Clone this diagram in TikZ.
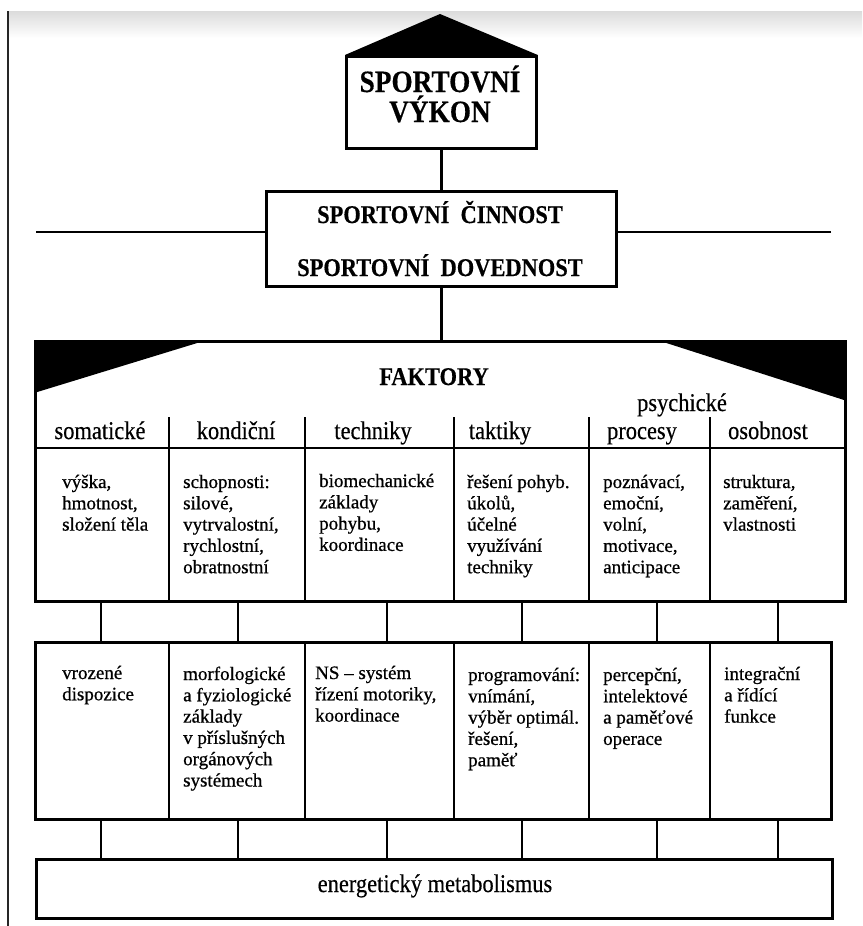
\documentclass[tikz,border=0pt]{standalone}
\usepackage{fontspec}
\setmainfont{Liberation Serif}
\newfontfamily\condfont[FakeStretch=0.88,FakeBold=0.4,Ligatures=TeX]{Liberation Serif}
\newfontfamily\cellfont[FakeBold=0.7,Ligatures=TeX]{Liberation Serif}
\begin{document}
\begin{tikzpicture}[x=1pt,y=-1pt,
  box/.style={draw, line width=2.8pt, inner sep=0pt, anchor=north west},
  ln/.style={line width=2.5pt},
  celltxt/.style={anchor=base west, inner sep=0pt, font=\cellfont\fontsize{19}{21.3}\selectfont},
  head/.style={anchor=base, inner sep=0pt, font=\condfont\fontsize{25.5}{25.5}\selectfont},
  bighead/.style={anchor=base, inner sep=0pt, font=\condfont\bfseries\fontsize{25.5}{25.5}\selectfont},
  toptxt/.style={anchor=base, inner sep=0pt, font=\condfont\bfseries\fontsize{31}{31}\selectfont}]
\useasboundingbox (0,0) rectangle (862,926);
\fill[white] (0,0) rectangle (862,926);
\shade[top color=black!14, bottom color=white] (8,11) rectangle (862,38);
\draw[line width=2pt, black!85] (8,11) -- (8,926);

% top box with roof
\node[box, minimum width=190pt, minimum height=92pt] (vykon) at (345,55) {};
\coordinate (apex) at (440,14);
\fill[black] (vykon.north west) -- (apex) -- (vykon.north east) -- cycle;
\node[toptxt] (vyk1) at (440,92) {SPORTOVNÍ};
\node[toptxt] (vyk2) at (440,122) {VÝKON};

% activity box
\node[box, minimum width=350pt, minimum height=95pt] (cinnost) at (265,190) {};
\node[bighead] (cin1) at (440,223) {SPORTOVNÍ\ \ ČINNOST};
\node[bighead] (cin2) at (440,276) {SPORTOVNÍ\ \ DOVEDNOST};
\draw[ln] (vykon.south) -- (cinnost.north);
\coordinate (lend) at (36,232);
\coordinate (rend) at (831,232);
\draw[line width=2.8pt] (lend) -- (lend -| cinnost.west);
\draw[line width=2.8pt] (rend) -- (rend -| cinnost.east);

% factors block
\fill[black] (34,340) -- (207,340) -- (34,393) -- cycle;
\fill[black] (657,340) -- (844,340) -- (844,400) -- cycle;
\node[box, minimum width=810pt, minimum height=260pt] (fak) at (34,340) {};
\draw[ln] (cinnost.south) -- (cinnost.south |- fak.north);
\node[bighead] (faktory) at (434,385) {FAKTORY};
\node[head] (psych) at (682,411) {psychické};
\draw[line width=2.8pt] (34,448) -- (844,448);
\foreach \x in {169,305,454,589,710}{
  \draw[ln] (\x,417) -- (\x,600);
}
\node[head] (h1) at (100,439) {somatické};
\node[head] (h2) at (236,439) {kondiční};
\node[head] (h3) at (373,439) {techniky};
\node[head] (h4) at (500,439) {taktiky};
\node[head] (h5) at (642,439) {procesy};
\node[head] (h6) at (768,439) {osobnost};

\node[celltxt] (a1) at (62,488) {\parbox[t]{200pt}{výška,\\hmotnost,\\složení těla}};
\node[celltxt] (a2) at (183,488) {\parbox[t]{200pt}{schopnosti:\\silové,\\vytrvalostní,\\rychlostní,\\obratnostní}};
\node[celltxt] (a3) at (319,487) {\parbox[t]{200pt}{biomechanické\\základy\\pohybu,\\koordinace}};
\node[celltxt] (a4) at (467,488) {\parbox[t]{200pt}{řešení pohyb.\\úkolů,\\účelné\\využívání\\techniky}};
\node[celltxt] (a5) at (603,488) {\parbox[t]{200pt}{poznávací,\\emoční,\\volní,\\motivace,\\anticipace}};
\node[celltxt] (a6) at (723,488) {\parbox[t]{200pt}{struktura,\\zaměření,\\vlastnosti}};

% second row
\node[box, minimum width=796pt, minimum height=177pt] (row2) at (34,641) {};
\foreach \x in {169,305,454,589,710}{
  \draw[ln] (\x,641) -- (\x,818);
}
\node[celltxt] (b1) at (62,679) {\parbox[t]{200pt}{vrozené\\dispozice}};
\node[celltxt] (b2) at (183,680) {\parbox[t]{200pt}{morfologické\\a fyziologické\\základy\\v příslušných\\orgánových\\systémech}};
\node[celltxt] (b3) at (315,679) {\parbox[t]{200pt}{NS – systém\\řízení motoriky,\\koordinace}};
\node[celltxt] (b4) at (468,681) {\parbox[t]{200pt}{programování:\\vnímání,\\výběr optimál.\\řešení,\\paměť}};
\node[celltxt] (b5) at (603,681) {\parbox[t]{200pt}{percepční,\\intelektové\\a paměťové\\operace}};
\node[celltxt] (b6) at (724,680) {\parbox[t]{200pt}{integrační\\a řídící\\funkce}};

% energy box
\node[box, minimum width=796pt, minimum height=59pt] (energy) at (35,858) {};
\node[head] (en) at (435,892) {energetický metabolismus};

% stubs
\foreach \x [count=\i] in {101,238,387,522,657,778}{
  \coordinate (u\i) at (\x,600);
  \coordinate (v\i) at (\x,641);
  \coordinate (w\i) at (\x,818);
  \coordinate (z\i) at (\x,858);
  \draw[ln] (u\i) -- (v\i);
  \draw[ln] (w\i) -- (z\i);
}
\end{tikzpicture}
\end{document}
